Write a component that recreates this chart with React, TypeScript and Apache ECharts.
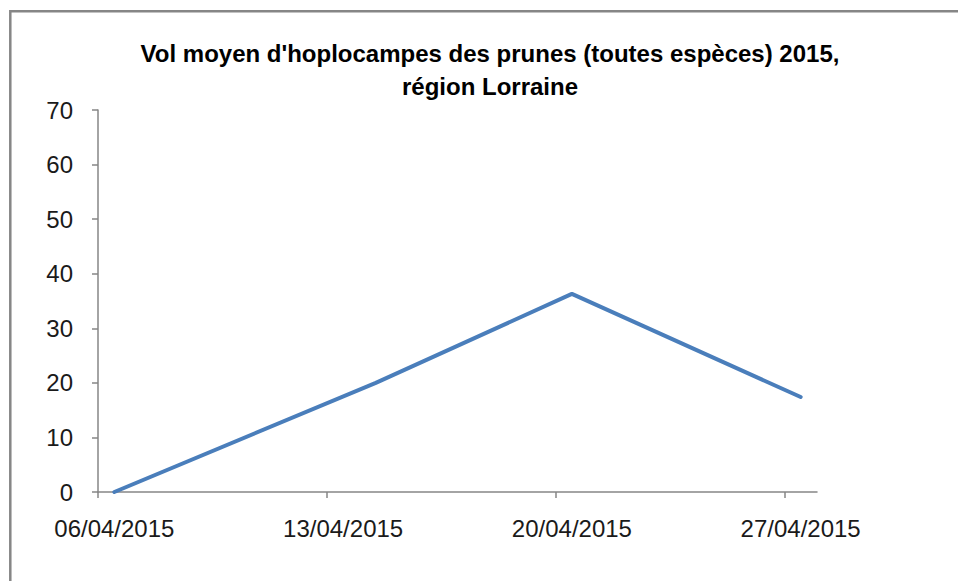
import React, { useEffect, useRef } from "react";
import * as echarts from "echarts";

const DAY = 86400000;
const dates = ["2015-04-06", "2015-04-14", "2015-04-20", "2015-04-27"];
const values = [0, 20, 36.3, 17.4];
const tickDates = ["2015-04-06", "2015-04-13", "2015-04-20", "2015-04-27"];
const tickLabels = ["06/04/2015", "13/04/2015", "20/04/2015", "27/04/2015"];
const axisStart = "2015-04-06";
const axisEnd = "2015-04-28";
const titleText = "Vol moyen d'hoplocampes des prunes (toutes espèces) 2015,\nrégion Lorraine";

const ts = (d: string) => Date.parse(d + "T00:00:00Z");
const FONT = "'Liberation Sans', Arial, sans-serif";
const AXIS = "#868686";

export default function App() {
  const ref = useRef<HTMLDivElement>(null);
  useEffect(() => {
    const chart = echarts.init(ref.current!, null, { renderer: "svg" });
    const labelValues = tickDates.map((d) => ts(d) + DAY / 2);
    chart.setOption({
      animation: false,
      backgroundColor: "#fff",
      title: {
        text: titleText,
        left: 490,
        top: 37,
        textAlign: "center",
        padding: 0,
        textStyle: { fontFamily: FONT, fontSize: 24, fontWeight: "bold", lineHeight: 33, color: "#000" },
      },
      graphic: [
        {
          type: "rect",
          shape: { x: 10.3, y: 11.2, width: 1200, height: 1200 },
          style: { fill: "none", stroke: AXIS, lineWidth: 2.5 },
          silent: true,
        },
      ],
      grid: { left: 98, right: 141, top: 110, bottom: 89, containLabel: false },
      xAxis: {
        type: "value",
        min: ts(axisStart),
        max: ts(axisEnd),
        splitLine: { show: false },
        axisLine: { show: true, lineStyle: { color: AXIS, width: 1.5 } },
        axisTick: {
          show: true,
          length: 6,
          lineStyle: { color: AXIS, width: 1.5 },
          customValues: tickDates.map(ts),
        },
        axisLabel: {
          customValues: labelValues,
          margin: 24,
          fontFamily: FONT,
          fontSize: 24,
          color: "#1a1a1a",
          formatter: (v: number) => {
            const i = labelValues.indexOf(v);
            return i >= 0 ? tickLabels[i] : "";
          },
        },
      },
      yAxis: {
        type: "value",
        min: 0,
        max: 70,
        interval: 10,
        splitLine: { show: false },
        axisLine: { show: true, lineStyle: { color: AXIS, width: 1.5 } },
        axisTick: { show: true, length: 6, lineStyle: { color: AXIS, width: 1.5 } },
        axisLabel: { margin: 25, fontFamily: FONT, fontSize: 24, color: "#1a1a1a" },
      },
      series: [
        {
          type: "line",
          data: dates.map((d, i) => [ts(d) + DAY / 2, values[i]]),
          showSymbol: false,
          symbol: "none",
          lineStyle: { color: "#4a7ebb", width: 4, cap: "round", join: "round" },
          itemStyle: { color: "#4a7ebb" },
        },
      ],
    });
    return () => chart.dispose();
  }, []);
  return (
    <div
      ref={ref}
      style={{ position: "fixed", left: 0, top: 0, width: 958, height: 581 }}
    />
  );
}
